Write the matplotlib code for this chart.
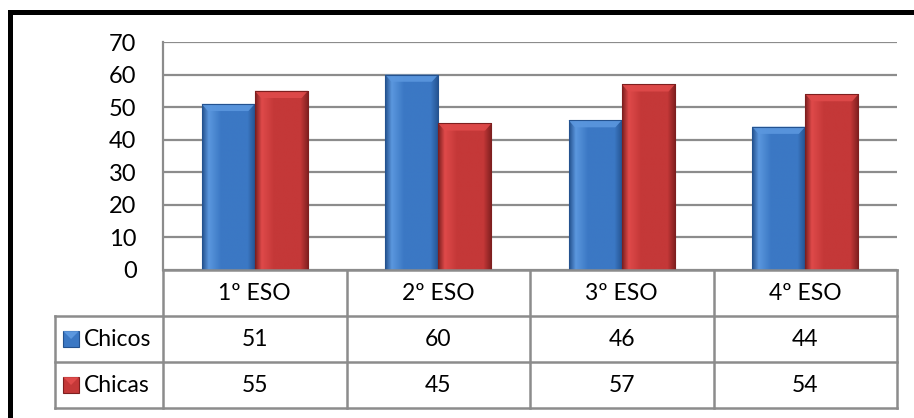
import numpy as np
import matplotlib
matplotlib.use("Agg")
import matplotlib.pyplot as plt
from matplotlib.colors import to_rgb
from matplotlib.patches import Polygon, Rectangle

# Datos
cursos = ["1º ESO", "2º ESO", "3º ESO", "4º ESO"]
chicos = [51, 60, 46, 44]
chicas = [55, 45, 57, 54]
series = ["Chicos", "Chicas"]

plt.rcParams["font.family"] = ["Lato", "DejaVu Sans"]

W, H = 914, 418
fig = plt.figure(figsize=(W / 100, H / 100), dpi=100)


def px(x0, y0, x1, y1):
    # caja en píxeles (origen arriba-izquierda) -> fracción de figura
    return [x0 / W, 1 - y1 / H, (x1 - x0) / W, (y1 - y0) / H]


ax = fig.add_axes(px(163, 42, 897, 270))
grid_c = "#8c8c8c"

# colores (claro, medio, oscuro)
pal = {
    "Chicos": ("#5b97de", "#3b78c4", "#24528f"),
    "Chicas": ("#df4a4a", "#c43838", "#7e1f1f"),
}

ancho = 0.29
xs = np.arange(len(cursos))


def gradiente(nombre):
    light, mid, dark = [np.array(to_rgb(c)) for c in pal[nombre]]
    t = np.linspace(0, 1, 60)
    cols = []
    for v in t:
        if v < 0.12:
            c = dark + (light - dark) * (v / 0.12)
        elif v < 0.35:
            c = light + (mid - light) * ((v - 0.12) / 0.23)
        elif v < 0.85:
            c = mid
        else:
            c = mid + (dark - mid) * ((v - 0.85) / 0.15)
        cols.append(c)
    return np.array(cols)[None, :, :]


def dibujar(valores, offset, nombre):
    barras = ax.bar(xs + offset, valores, width=ancho, color=pal[nombre][1],
                    edgecolor="none", zorder=3)
    img = gradiente(nombre)
    for b in barras:
        x0, w, h = b.get_x(), b.get_width(), b.get_height()
        im = ax.imshow(img, extent=(x0, x0 + w, 0, h), aspect="auto",
                       zorder=4, interpolation="bilinear")
        im.set_clip_path(b)
        # bisel superior
        bev = 2.2
        dx = w * 0.12
        top = Polygon([(x0, h), (x0 + w, h), (x0 + w - dx, h - bev), (x0 + dx, h - bev)],
                      closed=True, facecolor=pal[nombre][0], edgecolor="none",
                      alpha=0.9, zorder=5)
        ax.add_patch(top)
        ax.add_patch(Rectangle((x0, 0), w, h, fill=False,
                               edgecolor=pal[nombre][2], lw=0.8, zorder=6))


dibujar(chicos, -ancho / 2, "Chicos")
dibujar(chicas, ancho / 2, "Chicas")

ax.set_xlim(-0.5, len(cursos) - 0.5)
ax.set_ylim(0, 70)
ax.set_yticks(range(0, 71, 10))
ax.set_xticks([])
ax.yaxis.grid(True, color=grid_c, lw=1.6, zorder=1)
ax.set_axisbelow(True)
for s in ["top", "right", "bottom"]:
    ax.spines[s].set_visible(False)
ax.spines["left"].set_color(grid_c)
ax.spines["left"].set_linewidth(1.6)
ax.tick_params(axis="y", length=0, pad=19, labelsize=17)
ax.set_autoscale_on(False)

# Tabla de datos
tab = fig.add_axes(px(55, 270, 897, 408))
cat_px = (897 - 163) / len(cursos)
left_data = -0.5 - (163 - 55) / cat_px
tab.set_xlim(left_data, len(cursos) - 0.5)
tab.set_ylim(3, 0)
tab.axis("off")
tc = "#8c8c8c"
lw = 1.8
fs = 16.5

# líneas horizontales
tab.plot([-0.5, len(cursos) - 0.5], [0, 0], color=tc, lw=lw, clip_on=False)
for yy in [1, 2, 3]:
    tab.plot([left_data, len(cursos) - 0.5], [yy, yy], color=tc, lw=lw, clip_on=False)
# líneas verticales
tab.plot([left_data, left_data], [1, 3], color=tc, lw=lw, clip_on=False)
for k in range(len(cursos) + 1):
    tab.plot([k - 0.5, k - 0.5], [0, 3], color=tc, lw=lw, clip_on=False)

for i, c in enumerate(cursos):
    tab.text(i, 0.5, c, ha="center", va="center", fontsize=fs)
for fila, (nombre, vals) in enumerate(zip(series, [chicos, chicas]), start=1):
    for i, v in enumerate(vals):
        tab.text(i, fila + 0.5, str(v), ha="center", va="center", fontsize=fs)
    # muestra de leyenda
    sw = 0.085
    sx = left_data + 0.045
    light, mid, dark = pal[nombre]
    tab.add_patch(Rectangle((sx, fila + 0.5 - 0.17), sw, 0.34, facecolor=mid,
                            edgecolor=dark, lw=0.8, clip_on=False))
    tab.add_patch(Polygon([(sx, fila + 0.33), (sx + sw, fila + 0.33),
                           (sx + sw / 2, fila + 0.5)], closed=True,
                          facecolor=light, edgecolor="none", clip_on=False))
    tab.text(sx + sw + 0.03, fila + 0.5, nombre, ha="left", va="center",
             fontsize=fs)

# marco negro
fig.add_artist(Rectangle((8 / W, 1 - 15 / H), 1, 5 / H, facecolor="black",
                         edgecolor="none", transform=fig.transFigure))
fig.add_artist(Rectangle((8 / W, 0), 5 / W, 1 - 10 / H, facecolor="black",
                         edgecolor="none", transform=fig.transFigure))

fig.savefig("out.png", dpi=100)
